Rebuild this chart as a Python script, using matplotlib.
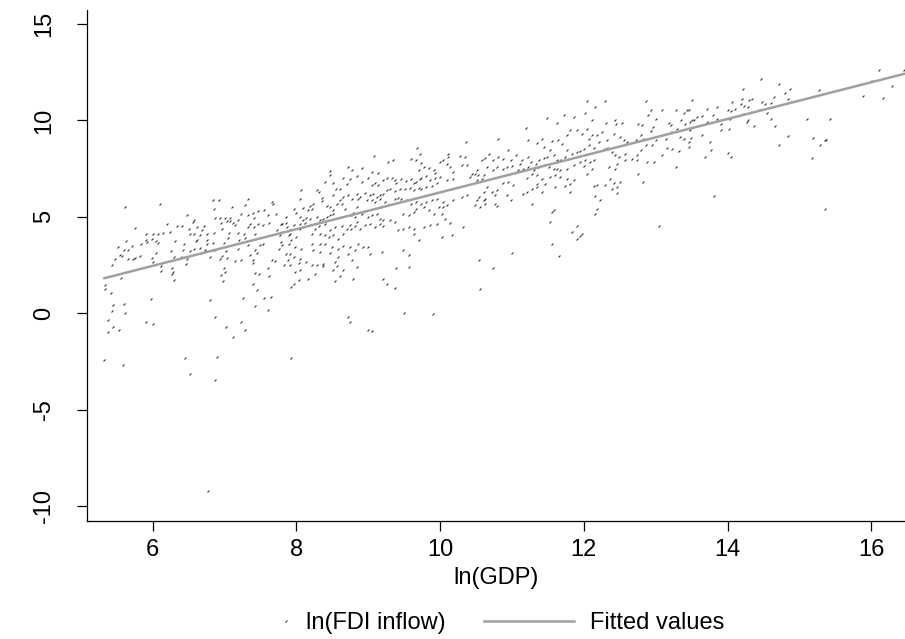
import numpy as np
import matplotlib.pyplot as plt
from matplotlib.path import Path
from matplotlib.lines import Line2D

plt.rcParams['font.family'] = ['Liberation Sans', 'DejaVu Sans']
plt.rcParams['axes.unicode_minus'] = False

# (ln GDP, ln FDI inflow) pairs, split by ln(GDP) band
band_low = [
    (5.62, 5.52), (6.10, 5.65), (6.84, 5.86), (6.92, 5.86), (7.32, 5.95), (7.66, 5.78), (7.68, 5.69),
    (7.29, 5.60), (7.11, 5.52), (6.85, 5.43), (6.48, 5.12), (6.57, 4.86), (6.56, 4.74), (5.76, 4.43),
    (6.20, 4.65), (6.34, 4.53), (6.41, 4.53), (6.50, 4.39), (6.62, 4.48), (6.71, 4.51), (6.69, 4.30),
    (6.86, 4.95), (6.94, 4.95), (7.01, 4.95), (7.07, 4.95), (6.95, 4.69), (7.03, 4.77), (7.08, 4.77),
    (7.12, 4.69), (7.14, 4.60), (7.18, 4.82), (7.23, 5.17), (7.32, 5.08), (7.40, 5.22), (7.46, 5.31),
    (7.55, 5.38), (7.60, 5.12), (7.72, 5.17), (7.41, 4.96), (7.36, 4.65), (7.32, 4.48), (7.41, 4.48),
    (7.47, 4.65), (7.54, 4.56), (7.62, 4.69), (7.80, 4.65), (7.87, 4.48), (7.90, 4.30), (7.80, 4.22),
    (7.73, 4.30), (5.91, 4.10), (6.00, 4.13), (6.08, 4.13), (6.15, 4.18), (6.24, 4.22), (6.52, 4.13),
    (6.58, 4.13), (6.66, 4.08), (6.76, 4.13), (6.85, 4.18), (6.97, 4.39), (7.06, 4.17), (7.19, 4.18),
    (7.27, 4.13), (7.43, 4.10), (5.91, 3.82), (5.99, 3.87), (6.04, 3.73), (6.08, 3.66), (5.92, 3.70),
    (5.83, 3.61), (5.71, 3.51), (5.63, 3.73), (5.51, 3.44), (5.60, 3.27), (5.65, 3.27), (5.48, 2.83),
    (5.54, 3.01), (5.57, 2.99), (5.66, 2.82), (5.72, 2.83), (5.76, 2.89), (5.82, 2.96), (5.99, 2.89),
    (6.01, 2.66), (6.05, 3.13), (6.12, 2.45), (6.12, 2.19), (6.25, 3.21), (6.30, 2.92), (6.31, 3.73),
    (6.39, 2.92), (6.42, 3.30), (6.44, 3.61), (6.48, 2.80), (6.52, 3.21), (6.57, 3.35), (6.60, 3.73),
    (6.61, 3.82), (6.66, 3.39), (6.67, 3.13), (6.73, 3.27), (6.75, 3.82), (6.76, 3.61), (6.80, 2.92),
    (6.84, 3.65), (6.87, 3.27), (6.93, 2.80), (6.97, 2.96), (6.99, 3.65), (7.02, 3.21), (7.05, 3.92),
    (7.04, 2.89), (7.15, 2.71), (7.18, 3.35), (7.20, 3.79), (7.23, 2.75), (7.29, 3.92), (7.32, 3.53),
    (7.36, 3.01), (7.39, 2.78), (7.42, 3.30), (7.45, 3.13), (7.49, 3.53), (7.54, 3.58), (7.60, 2.32),
    (7.66, 2.75), (7.70, 2.71), (7.76, 3.35), (7.80, 3.53), (7.83, 2.49), (7.88, 2.75), (7.91, 3.09),
    (5.44, 2.49), (5.56, 1.83), (5.34, 1.45), (5.33, 1.28), (5.42, 1.05), (5.97, 0.76), (6.28, 2.12),
    (6.27, 2.06), (6.29, 1.71), (6.46, 2.54), (6.27, 2.37), (6.99, 2.37), (7.01, 2.14), (6.95, 1.97),
    (6.98, 1.68), (7.39, 2.61), (7.42, 2.09), (7.48, 2.02), (7.62, 1.93), (7.40, 1.50), (7.45, 1.19),
    (7.55, 0.81), (7.65, 0.84), (7.25, 0.79), (7.42, 0.36), (7.60, 0.15), (7.92, 1.36), (5.45, 0.41),
    (5.60, 0.46), (5.43, 0.12), (5.61, 0.01), (5.38, -0.37), (5.45, -0.71), (5.38, -0.97), (5.53, -0.89),
    (5.90, -0.45), (6.00, -0.57), (6.80, 0.67), (6.87, -0.19), (7.02, -0.71), (7.12, -1.23), (7.28, -0.85),
    (7.23, -0.45), (5.32, -2.41), (5.59, -2.67), (6.45, -2.32), (6.90, -2.27), (6.52, -3.13), (6.87, -3.47),
    (6.77, -9.22), (7.92, -2.30),
]

band_mid = [
    (10.36, 8.89), (9.68, 8.59), (9.72, 8.28), (9.08, 8.15), (9.28, 7.85), (9.35, 7.97), (9.60, 8.02),
    (9.67, 7.94), (9.74, 7.80), (9.77, 7.59), (9.70, 7.42), (9.84, 7.51), (9.91, 7.42), (9.93, 7.28),
    (10.00, 7.85), (10.04, 7.94), (10.11, 8.28), (10.11, 8.11), (10.09, 7.73), (10.14, 7.59), (10.18, 7.33),
    (10.27, 8.15), (10.35, 8.08), (10.31, 7.68), (10.38, 7.68), (10.53, 7.16), (8.47, 7.38), (8.72, 7.59),
    (8.77, 7.42), (8.91, 7.54), (8.75, 6.94), (8.47, 7.16), (8.40, 6.81), (8.51, 6.73), (8.65, 6.99),
    (8.70, 6.69), (8.84, 7.11), (8.91, 6.81), (9.05, 7.33), (9.14, 7.28), (8.99, 6.99), (9.05, 6.64),
    (9.09, 6.73), (9.14, 6.64), (9.21, 6.90), (9.26, 6.99), (9.33, 7.04), (9.37, 6.90), (9.39, 6.73),
    (9.46, 6.94), (9.53, 6.87), (9.60, 6.95), (9.63, 6.73), (9.67, 6.81), (9.72, 6.94), (9.74, 7.04),
    (9.81, 7.11), (9.86, 6.90), (9.93, 7.04), (10.00, 7.07), (10.09, 6.90), (10.18, 6.95), (9.95, 6.73),
    (9.88, 6.59), (9.81, 6.55), (9.74, 6.47), (9.70, 6.52), (9.63, 6.38), (9.58, 6.52), (9.51, 6.47),
    (9.44, 6.42), (9.37, 6.35), (9.30, 6.47), (9.26, 6.38), (9.21, 6.21), (9.16, 6.12), (9.12, 6.04),
    (9.07, 6.21), (9.02, 6.12), (8.95, 6.24), (8.88, 6.04), (8.84, 6.21), (8.77, 5.95), (8.72, 6.12),
    (8.65, 6.04), (8.60, 5.86), (8.63, 5.69), (8.68, 5.43), (8.56, 5.69), (8.51, 6.12), (8.61, 6.42),
    (8.55, 6.47), (8.28, 6.38), (8.32, 6.30), (8.07, 6.38), (8.05, 5.90), (8.35, 6.00), (8.36, 5.83),
    (8.23, 5.69), (8.19, 5.55), (8.21, 5.43), (8.16, 5.34), (8.09, 5.48), (7.96, 5.43), (8.00, 5.21),
    (8.05, 5.00), (8.09, 4.83), (8.14, 4.96), (8.19, 4.91), (8.28, 5.00), (8.33, 4.83), (8.37, 4.91),
    (8.42, 5.00), (8.47, 5.09), (8.51, 5.17), (8.42, 5.55), (8.47, 5.52), (8.51, 5.34), (8.86, 5.95),
    (8.98, 5.86), (9.05, 5.86), (9.09, 5.78), (9.16, 5.90), (9.23, 5.78), (9.28, 5.60), (9.37, 5.95),
    (9.42, 6.00), (9.46, 5.95), (9.53, 5.86), (9.60, 5.69), (9.67, 5.78), (9.74, 5.69), (9.81, 5.78),
    (9.88, 5.86), (9.95, 5.95), (10.04, 5.78), (10.09, 5.60), (10.18, 5.86), (10.30, 6.04), (10.37, 6.12),
    (10.56, 5.52), (8.84, 5.52), (8.79, 5.21), (8.77, 5.09), (8.81, 5.00), (8.91, 5.17), (8.95, 5.31),
    (9.00, 5.00), (9.05, 5.09), (9.12, 5.14), (9.16, 4.91), (9.21, 4.83), (9.30, 4.83), (9.37, 4.74),
    (9.49, 5.17), (9.56, 5.09), (9.63, 5.26), (9.67, 5.43), (9.77, 5.52), (9.84, 5.34), (9.91, 5.17),
    (9.98, 5.52), (10.04, 5.52), (10.02, 5.17), (10.07, 4.91), (10.14, 4.69), (8.84, 4.74), (8.74, 4.57),
    (8.70, 4.39), (8.63, 4.51), (8.54, 4.45), (8.47, 4.31), (8.40, 4.65), (8.32, 4.51), (8.26, 4.39),
    (8.19, 4.57), (8.12, 4.69), (8.05, 4.62), (7.96, 4.57), (7.86, 4.69), (7.79, 4.62), (7.86, 5.00),
    (7.77, 4.05), (7.91, 4.13), (8.05, 4.39), (8.21, 4.13), (8.33, 4.13), (8.40, 4.05), (8.46, 3.96),
    (8.51, 4.05), (8.58, 3.87), (8.65, 4.13), (8.76, 4.36), (8.81, 4.51), (8.88, 4.39), (8.95, 4.57),
    (9.02, 4.65), (9.09, 4.48), (9.16, 4.65), (9.21, 4.51), (9.42, 4.34), (9.49, 4.39), (9.56, 4.48),
    (9.63, 4.39), (9.63, 4.10), (9.70, 3.82), (9.77, 4.48), (9.86, 4.57), (9.95, 4.65), (10.16, 4.05),
    (10.32, 4.48), (10.02, 3.93), (7.89, 4.05), (8.00, 3.96), (7.93, 3.79), (7.79, 3.70), (7.89, 3.61),
    (7.98, 3.44), (8.07, 3.35), (8.21, 3.61), (8.33, 3.58), (8.40, 3.61), (8.49, 3.44), (8.58, 3.35),
    (8.65, 3.48), (8.74, 3.44), (8.86, 3.61), (8.93, 3.44), (9.00, 3.44), (8.81, 3.27), (8.72, 3.06),
    (8.77, 2.75), (8.58, 2.92), (8.47, 3.10), (8.33, 3.18), (8.23, 3.27), (7.86, 3.06), (7.96, 2.92),
    (8.05, 2.79), (8.14, 2.66), (8.21, 2.49), (8.28, 2.49), (8.37, 2.54), (8.03, 2.58), (7.91, 2.49),
    (7.98, 2.15), (8.05, 2.23), (8.26, 2.06), (8.37, 2.44), (8.54, 2.66), (8.56, 2.44), (8.51, 2.23),
    (8.65, 2.23), (8.84, 2.41), (9.02, 3.06), (9.19, 3.18), (9.49, 3.27), (9.56, 3.01), (9.39, 2.32),
    (9.56, 2.41), (9.21, 1.80), (9.26, 1.54), (9.37, 1.33), (8.61, 1.92), (8.54, 1.68), (8.79, 1.76),
    (8.16, 1.76), (8.03, 1.71), (7.96, 1.49), (8.72, -0.19), (8.75, -0.45), (9.50, 0.02), (9.00, -0.85),
    (9.05, -0.90), (9.90, -0.05),
]

band_high = [
    (12.04, 10.99), (12.30, 11.01), (12.87, 11.01), (12.16, 10.70), (12.02, 10.39), (11.49, 10.13),
    (11.72, 10.27), (11.86, 10.18), (11.19, 9.61), (11.62, 9.89), (12.11, 10.01), (12.31, 9.89),
    (12.43, 10.01), (12.45, 9.84), (12.53, 9.87), (12.76, 9.84), (12.81, 9.75), (12.90, 10.27),
    (12.93, 10.53), (13.09, 10.56), (13.00, 10.09), (12.96, 9.66), (12.93, 9.45), (13.18, 9.87),
    (13.21, 9.75), (13.28, 10.53), (13.39, 10.39), (13.46, 10.53), (13.35, 10.01), (13.41, 9.80),
    (13.48, 9.49), (13.30, 9.58), (13.21, 9.40), (13.14, 9.06), (13.16, 8.59), (13.28, 7.59),
    (13.32, 8.42), (13.39, 9.06), (13.46, 8.88), (13.34, 9.14), (10.81, 9.06), (11.23, 9.01),
    (11.42, 9.06), (11.35, 8.83), (11.44, 8.62), (11.56, 8.94), (11.64, 8.97), (11.70, 8.80),
    (11.77, 9.23), (11.81, 9.49), (11.91, 9.52), (11.97, 9.32), (12.04, 9.58), (12.07, 9.06),
    (12.11, 9.23), (12.18, 9.23), (12.25, 9.40), (12.32, 8.97), (12.42, 9.32), (12.51, 9.14),
    (12.56, 8.97), (12.60, 8.88), (12.72, 8.97), (12.79, 9.23), (12.83, 9.06), (12.86, 8.71),
    (12.95, 8.71), (13.00, 8.97), (12.74, 8.19), (12.79, 8.45), (12.67, 8.02), (12.58, 8.24),
    (12.49, 8.11), (12.44, 8.19), (12.39, 8.37), (12.32, 8.59), (12.28, 8.54), (12.21, 8.88),
    (12.14, 8.59), (12.07, 8.71), (12.00, 8.54), (11.95, 8.42), (11.91, 8.37), (11.84, 8.28),
    (11.77, 8.45), (11.74, 8.11), (11.67, 7.93), (11.63, 7.93), (11.58, 8.19), (11.53, 8.45),
    (11.49, 8.11), (11.44, 8.05), (11.37, 7.97), (11.33, 7.76), (11.26, 7.85), (11.23, 8.11),
    (11.14, 7.93), (11.11, 7.76), (11.05, 8.19), (10.98, 7.93), (10.94, 8.49), (10.88, 8.02),
    (10.81, 8.11), (10.74, 7.93), (10.68, 8.28), (10.63, 8.07), (10.58, 7.93), (10.51, 7.41),
    (10.49, 7.24), (10.44, 7.24), (10.42, 7.07), (10.61, 7.16), (10.65, 7.59), (10.74, 7.41),
    (10.79, 7.59), (10.88, 7.50), (10.93, 7.59), (11.00, 7.62), (11.09, 7.41), (11.16, 7.50),
    (11.23, 7.59), (11.30, 7.41), (11.37, 7.59), (11.44, 7.67), (11.51, 7.59), (11.58, 7.50),
    (11.63, 7.50), (11.67, 7.41), (11.77, 7.50), (11.86, 7.67), (11.95, 7.85), (12.02, 7.93),
    (12.09, 7.85), (12.14, 7.93), (12.11, 7.50), (12.04, 7.24), (12.00, 7.62), (12.35, 7.59),
    (12.44, 7.50), (12.46, 7.76), (12.58, 7.93), (12.74, 7.93), (12.88, 7.85), (12.97, 7.85),
    (13.09, 8.19), (13.23, 8.54), (10.51, 6.90), (10.58, 6.98), (10.65, 6.55), (10.61, 6.29),
    (10.72, 6.29), (10.79, 6.38), (10.88, 6.76), (10.95, 6.81), (11.02, 6.64), (11.21, 7.03),
    (11.28, 7.24), (11.35, 7.16), (11.42, 6.98), (11.53, 7.07), (11.60, 7.16), (11.67, 7.07),
    (11.77, 6.98), (11.86, 6.90), (11.81, 6.72), (11.74, 6.58), (11.60, 6.55), (11.46, 6.69),
    (11.35, 6.72), (11.28, 6.46), (11.21, 6.29), (11.16, 6.20), (10.93, 6.12), (10.77, 6.12),
    (10.63, 5.95), (10.51, 5.89), (10.54, 6.03), (10.49, 5.60), (10.61, 5.86), (10.63, 5.69),
    (10.77, 5.69), (10.79, 5.55), (10.98, 5.86), (11.28, 5.69), (11.35, 6.55), (11.42, 6.29),
    (11.81, 6.29), (12.14, 6.58), (12.18, 6.64), (12.30, 6.64), (12.37, 6.98), (12.42, 6.76),
    (12.46, 6.55), (12.51, 6.81), (12.39, 6.46), (12.46, 6.24), (12.76, 7.24), (12.83, 6.81),
    (12.16, 6.07), (12.23, 5.86), (12.18, 5.43), (12.16, 5.17), (11.56, 5.26), (11.58, 5.34),
    (11.53, 4.75), (11.84, 4.22), (11.91, 4.51), (11.97, 4.10), (11.95, 3.99), (11.91, 3.87),
    (11.56, 3.61), (11.00, 3.13), (11.65, 2.95), (10.54, 2.75), (10.74, 2.37), (10.56, 1.23),
    (13.04, 4.51),
]

band_top = [
    (16.11, 12.60), (16.46, 12.60), (15.99, 12.03), (16.29, 11.77), (16.17, 11.17), (15.88, 11.29),
    (15.28, 11.57), (14.46, 12.15), (14.71, 11.91), (14.87, 11.65), (14.80, 11.43), (14.21, 11.65),
    (14.20, 11.13), (14.06, 10.96), (13.50, 11.08), (13.71, 10.60), (13.85, 10.70), (14.00, 10.56),
    (14.05, 10.49), (14.11, 10.62), (14.19, 10.84), (14.23, 10.74), (14.30, 11.05), (14.34, 11.12),
    (14.29, 10.70), (14.48, 10.94), (14.52, 10.84), (14.61, 10.91), (14.64, 11.22), (14.84, 11.13),
    (14.44, 10.53), (14.55, 10.39), (14.21, 10.32), (14.27, 9.92), (14.29, 10.01), (14.04, 10.08),
    (13.86, 10.10), (13.80, 10.27), (13.72, 9.92), (13.65, 10.22), (13.58, 10.18), (13.54, 10.05),
    (13.50, 10.01), (13.48, 9.92), (13.43, 10.53), (13.91, 9.84), (13.91, 9.49), (14.02, 9.56),
    (14.37, 9.70), (14.60, 10.06), (14.66, 9.73), (13.49, 9.09), (13.64, 9.27), (13.76, 8.89),
    (13.46, 8.63), (13.77, 8.45), (13.69, 8.11), (14.01, 8.32), (14.05, 8.11), (14.71, 8.75),
    (14.84, 9.20), (15.11, 10.10), (15.42, 10.06), (15.19, 9.09), (15.35, 8.97), (15.37, 9.01),
    (15.29, 8.75), (15.17, 8.04), (13.81, 6.07), (15.36, 5.39),
]

# end points of the fitted line
fit_gdp = [5.31, 16.47]
fit_fdi = [1.80, 12.43]

x_ticks = [6, 8, 10, 12, 14, 16]
y_ticks = [-10, -5, 0, 5, 10, 15]

pts = np.array(band_low + band_mid + band_high + band_top)

fig = plt.figure(figsize=(9.05, 6.39), dpi=100)
ax = fig.add_axes([0.0965, 0.1847, 0.9035, 0.7993])

# Stata "p" style point: tiny slash
slash = Path([(-1, -1), (1, 1)], [Path.MOVETO, Path.LINETO])
mk = dict(linestyle='none', marker=slash, markersize=1.4, markeredgewidth=0.8,
          markerfacecolor='none', markeredgecolor='#333333')

ax.plot(pts[:, 0], pts[:, 1], **mk)
ax.plot(fit_gdp, fit_fdi, color='#a0a0a0', linewidth=1.8, solid_capstyle='butt')

ax.set_xlim(5.09, 16.47)
ax.set_ylim(-10.78, 15.72)
ax.set_xticks(x_ticks)
ax.set_yticks(y_ticks)
ax.spines['top'].set_visible(False)
ax.spines['right'].set_visible(False)
for s in ('left', 'bottom'):
    ax.spines[s].set_linewidth(0.9)
ax.tick_params(axis='both', direction='out', length=7, width=0.9, labelsize=17)
ax.tick_params(axis='x', pad=6)
ax.tick_params(axis='y', pad=16, labelrotation=90)
for lab in ax.get_yticklabels():
    lab.set_va('center')

ax.set_xlabel('ln(GDP)', fontsize=17, labelpad=4)

h_pts = Line2D([], [], **mk)
h_fit = Line2D([], [], color='#a0a0a0', linewidth=1.8)
fig.legend(handles=[h_pts], labels=['ln(FDI inflow)'], loc='center left',
           bbox_to_anchor=(0.303, 0.025), frameon=False, fontsize=17,
           handlelength=1, handletextpad=0.35, borderpad=0, borderaxespad=0)
fig.legend(handles=[h_fit], labels=['Fitted values'], loc='center left',
           bbox_to_anchor=(0.535, 0.025), frameon=False, fontsize=17,
           handlelength=3.8, handletextpad=0.7, borderpad=0, borderaxespad=0)

fig.savefig('out.png', dpi=100)
